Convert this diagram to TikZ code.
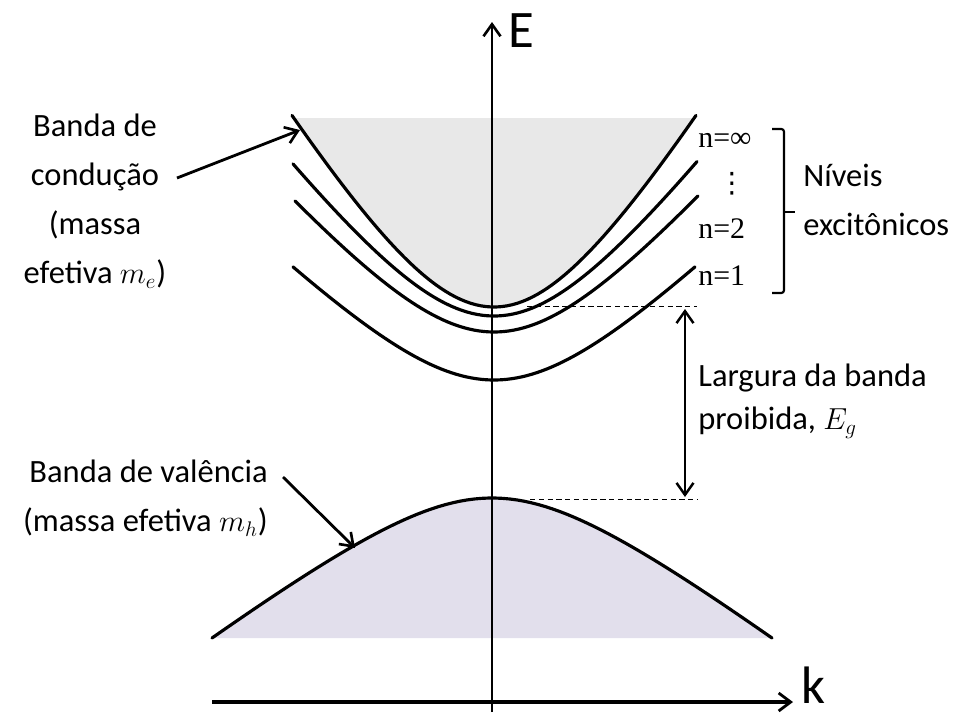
\documentclass[tikz,border=0pt]{standalone}
\usepackage{fontspec}
\setmainfont{Carlito}
\newfontfamily\numfont{Liberation Serif}
\newfontfamily\symfont{DejaVu Sans}
\usetikzlibrary{arrows.meta}
\definecolor{cbgray}{RGB}{232,232,232}
\definecolor{vblav}{RGB}{226,223,236}
\tikzset{
  band/.style  = {line width=1.8pt, line cap=round},
  axis/.style  = {line width=1.6pt, -{Straight Barb[length=2.4mm, width=3.4mm, line width=1.5pt]}},
  kaxis/.style = {line width=2.3pt, -{Straight Barb[length=2.4mm, width=3.6mm, line width=1.6pt]}},
  larr/.style  = {line width=1.6pt, -{Straight Barb[length=2.4mm, width=3.4mm, line width=1.5pt]}},
  barr/.style  = {line width=1.3pt, {Straight Barb[length=2.4mm, width=3.4mm, line width=1.4pt]}-{Straight Barb[length=2.4mm, width=3.4mm, line width=1.4pt]}},
  gapln/.style = {line width=0.5pt, densely dashed},
  brk/.style   = {line width=1.2pt},
  lbl/.style   = {inner sep=0pt, font=\fontsize{18.5}{27.8}\selectfont},
  nlbl/.style  = {inner sep=0pt, anchor=base west, font=\numfont\fontsize{17}{20}\selectfont},
  axlbl/.style = {inner sep=0pt, anchor=base west, font=\fontsize{30}{33}\selectfont},
}

\begin{document}
\begin{tikzpicture}[x=0.02cm, y=-0.02cm]
\useasboundingbox (0,0) rectangle (958,714);

%% ── Shaded bands ─────────────────────────────────────────────────────────────
\begin{scope}
  \clip (0,118) rectangle (958,714);
  \fill[cbgray] plot[domain=-202:202, samples=80] ({494+\x}, {307-200*(sqrt(1+(\x/120)^2)-1)}) -- cycle;
\end{scope}
\fill[vblav] plot[domain=-280:280, samples=80] ({492+\x}, {498+91*(sqrt(1+(\x/120)^2)-1)}) -- cycle;

%% ── Conduction band and excitonic levels ─────────────────────────────────────
\draw[band] plot[domain=-202:202, samples=80] ({494+\x}, {307-200*(sqrt(1+(\x/120)^2)-1)});
\draw[band] plot[domain=-201:203, samples=80] ({494+\x}, {316-160*(sqrt(1+(\x/120)^2)-1)});
\draw[band] plot[domain=-199:204, samples=80] ({494+\x}, {332-140*(sqrt(1+(\x/120)^2)-1)});
\draw[band] plot[domain=-201:201, samples=80] ({494+\x}, {380-119*(sqrt(1+(\x/120)^2)-1)});

%% ── Valence band ─────────────────────────────────────────────────────────────
\draw[band] plot[domain=-280:280, samples=80] ({492+\x}, {498+91*(sqrt(1+(\x/120)^2)-1)});

%% ── Axes ─────────────────────────────────────────────────────────────────────
\coordinate (Ebot) at (492,712);
\coordinate (Etop) at (492,22);
\coordinate (kleft) at (212,702);
\coordinate (kright) at (793,702);
\draw[axis]  (Ebot) -- (Etop);
\draw[kaxis] (kleft) -- (kright);
\node[axlbl] (Elbl) at (508,47)  {E};
\node[axlbl] (klbl) at (801,703) {k};

%% ── Band gap ─────────────────────────────────────────────────────────────────
\coordinate (gtopL) at (527,306);
\coordinate (gtopR) at (697,306);
\coordinate (gbotL) at (530,499);
\coordinate (gbotR) at (697,499);
\coordinate (gtop)  at (685,309);
\coordinate (gbot)  at (685,497);
\draw[gapln] (gtopL) -- (gtopR);
\draw[gapln] (gbotL) -- (gbotR);
\draw[barr]  (gbot) -- (gtop);
\node[lbl, align=left, anchor=north west, font=\fontsize{18.5}{24.5}\selectfont]
  (gaplbl) at (698,364) {Largura da banda\\proibida, $E_g$};

%% ── Conduction band label ────────────────────────────────────────────────────
\node[lbl, align=center, anchor=north] (cblbl) at (95,114)
  {Banda de\\condução\\(massa\\efetiva $m_e$)};
\coordinate (cbtail) at (177,178);
\coordinate (cbtip)  at (300,130);
\draw[larr] (cbtail) -- (cbtip);

%% ── Valence band label ───────────────────────────────────────────────────────
\node[lbl, align=right, anchor=north east] (vblbl) at (268,460)
  {Banda de valência\\(massa efetiva $m_h$)};
\coordinate (vbtail) at (283,477);
\coordinate (vbtip)  at (355,548);
\draw[larr] (vbtail) -- (vbtip);

%% ── Excitonic levels: n labels and bracket ───────────────────────────────────
\node[nlbl] (ninf) at (698,147) {n=∞};
\node[inner sep=0pt, font=\symfont\fontsize{16}{18}\selectfont] (ndots) at (732,184) {⋮};
\node[nlbl] (ntwo) at (698,238) {n=2};
\node[nlbl] (none) at (698,285) {n=1};
\draw[brk, rounded corners=1.5pt] (772,129) -- (784,129) -- (784,293) -- (772,293);
\draw[brk] (784,212) -- (795,212);
\node[lbl, align=left, anchor=north west] (nivlbl) at (803,164) {Níveis\\excitônicos};

\end{tikzpicture}
\end{document}
